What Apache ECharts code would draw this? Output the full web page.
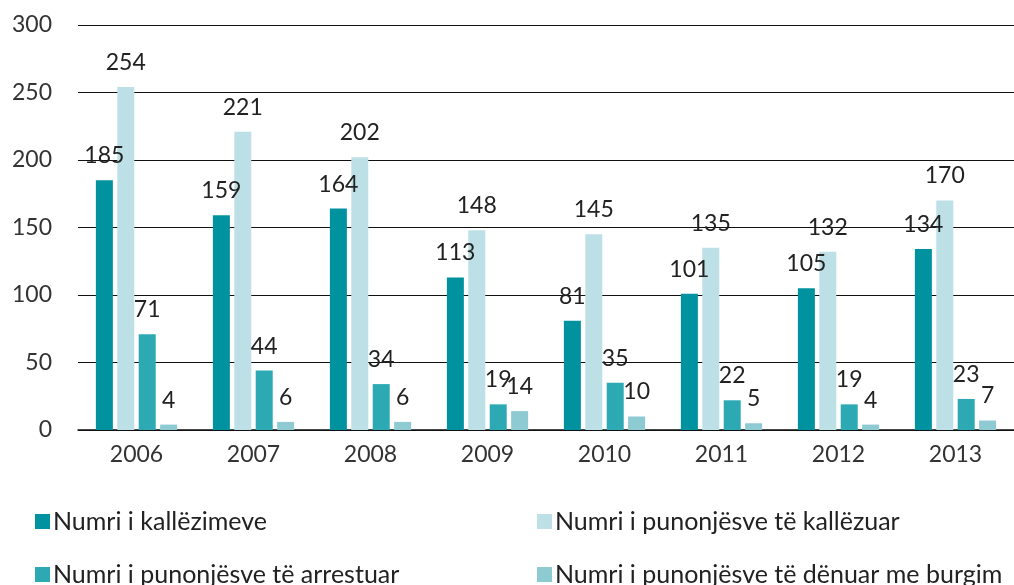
<!DOCTYPE html>
<html>
<head>
<meta charset="utf-8">
<script src="https://cdn.jsdelivr.net/npm/echarts@6/dist/echarts.min.js"></script>
<style>
  html, body { margin: 0; padding: 0; background: #fff; }
  #chart { width: 1014px; height: 585px; }
</style>
</head>
<body>
<div id="chart"></div>
<script>
var years = ['2006', '2007', '2008', '2009', '2010', '2011', '2012', '2013'];
var seriesNames = [
    'Numri i kallëzimeve',
    'Numri i punonjësve të kallëzuar',
    'Numri i punonjësve të arrestuar',
    'Numri i punonjësve të dënuar me burgim'
];
var kallezime = [185, 159, 164, 113, 81, 101, 105, 134];
var punonjesKallezuar = [254, 221, 202, 148, 145, 135, 132, 170];
var punonjesArrestuar = [71, 44, 34, 19, 35, 22, 19, 23];
var punonjesDenuar = [4, 6, 6, 14, 10, 5, 4, 7];
var colors = ['#00929f', '#bde0e6', '#2ca9b3', '#8ecad2'];

var FONT = 'Lato';

function make_series(name, data, color) {
    return {
        name: name,
        type: 'bar',
        data: data,
        barWidth: 17,
        barGap: '26%',
        itemStyle: { color: color },
        label: {
            show: true,
            position: 'top',
            distance: 13,
            fontFamily: FONT,
            fontSize: 23,
            color: '#222'
        }
    };
}

var dom = document.getElementById('chart');
var myChart = echarts.init(dom);
var option = {
    animation: false,
    color: colors,
    grid: {
        left: 78,
        width: 943,
        top: 25,
        bottom: 155
    },
    // legend split in two columns, two rows
    legend: [
        { data: [seriesNames[0]], left: 30, top: 504 },
        { data: [seriesNames[1]], left: 532, top: 504 },
        { data: [seriesNames[2]], left: 30, top: 557 },
        { data: [seriesNames[3]], left: 532, top: 557 }
    ].map(function (l) {
        l.itemWidth = 15;
        l.itemHeight = 15;
        l.icon = 'rect';
        l.itemGap = 5;
        l.textStyle = { fontFamily: FONT, fontSize: 25, color: '#222', padding: [0, 0, 0, -2] };
        return l;
    }),
    xAxis: {
        type: 'category',
        data: years,
        axisLine: { lineStyle: { color: '#111', width: 1.5 } },
        axisTick: { show: false },
        axisLabel: {
            fontFamily: FONT,
            fontSize: 23,
            color: '#333',
            margin: 13
        }
    },
    yAxis: {
        type: 'value',
        min: 0,
        max: 300,
        interval: 50,
        axisLine: { show: false },
        axisTick: { show: false },
        axisLabel: {
            fontFamily: FONT,
            fontSize: 23,
            color: '#333',
            margin: 26
        },
        splitLine: { lineStyle: { color: '#111', width: 1 } }
    },
    series: [
        make_series(seriesNames[0], kallezime, colors[0]),
        make_series(seriesNames[1], punonjesKallezuar, colors[1]),
        make_series(seriesNames[2], punonjesArrestuar, colors[2]),
        make_series(seriesNames[3], punonjesDenuar, colors[3])
    ]
};
myChart.setOption(option);
</script>
</body>
</html>
